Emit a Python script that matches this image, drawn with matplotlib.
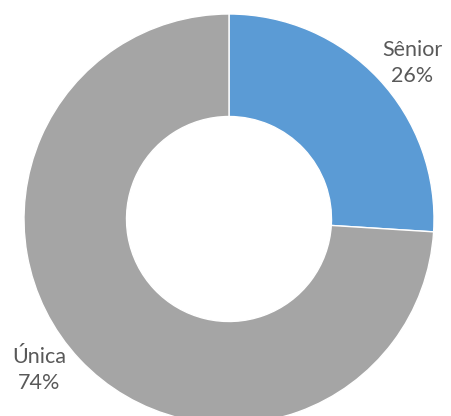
import matplotlib
matplotlib.use("Agg")
import matplotlib.pyplot as plt

categories = ["Sênior", "Única"]
values = [26, 74]
colors = ["#5B9BD5", "#A5A5A5"]

W, H = 452, 416
fig = plt.figure(figsize=(W / 100, H / 100), dpi=100)
ax = fig.add_axes([0, 0, 1, 1])

cx, cy, R = 229, 219, 205
ax.pie(values, colors=colors, startangle=90, counterclock=False,
       radius=1.0, wedgeprops=dict(width=0.5, edgecolor="white", linewidth=1.0))
ax.set_xlim(-cx / R, (W - cx) / R)
ax.set_ylim(-(H - cy) / R, cy / R)
ax.set_aspect("auto")
ax.axis("off")

label_pos = [(412, 63), (39, 370)]
total = sum(values)
for cat, v, (px, py) in zip(categories, values, label_pos):
    ax.text((px - cx) / R, (cy - py) / R, f"{cat}\n{round(100 * v / total)}%",
            ha="center", va="center", fontsize=15.5, family="Lato",
            color="#595959", linespacing=1.4)

fig.savefig("out.png", dpi=100)
